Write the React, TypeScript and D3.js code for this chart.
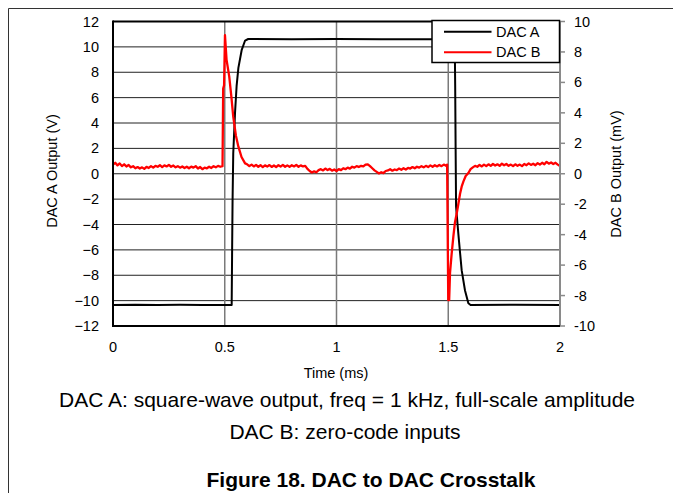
import React from "react";
import * as d3 from "d3";

// ---- Data ----
const xTicks = [0, 0.5, 1, 1.5, 2];
const xTickLabels = ["0", "0.5", "1", "1.5", "2"];
const leftTicks = [12, 10, 8, 6, 4, 2, 0, -2, -4, -6, -8, -10, -12];
const leftTickLabels = ["12", "10", "8", "6", "4", "2", "0", "\u22122", "\u22124", "\u22126", "\u22128", "\u221210", "\u221212"];
const rightTicks = [10, 8, 6, 4, 2, 0, -2, -4, -6, -8, -10];
const rightTickLabels = ["10", "8", "6", "4", "2", "0", "-2", "-4", "-6", "-8", "-10"];
const vGrid = [0.5, 1, 1.5];

// DAC A output (V) vs time (ms)
const dacA: [number, number][] = [
  [0, -10.34], [0.1, -10.32], [0.2, -10.35], [0.3, -10.33], [0.4, -10.34], [0.531, -10.34],
  [0.533, -6], [0.535, -2.06], [0.538, 1.6], [0.546, 4.8], [0.553, 6.9], [0.561, 8.35],
  [0.576, 9.77], [0.591, 10.5], [0.605, 10.62], [0.8, 10.6], [1.0, 10.62], [1.2, 10.6],
  [1.4, 10.6], [1.529, 10.6],
  [1.531, 7], [1.533, 2], [1.535, -2.6], [1.545, -4.7], [1.553, -6.25], [1.56, -7.6],
  [1.575, -9.2], [1.59, -10.2], [1.6, -10.34], [1.8, -10.33], [2.0, -10.34],
];

// DAC B output (mV) vs time (ms)
const dacB: [number, number][] = [
  [0.0, 0.6], [0.01, 0.72], [0.02, 0.55], [0.03, 0.68], [0.04, 0.5], [0.05, 0.62], [0.06, 0.48],
  [0.07, 0.58], [0.08, 0.42], [0.09, 0.5], [0.1, 0.36], [0.11, 0.44], [0.12, 0.34], [0.13, 0.42],
  [0.14, 0.32], [0.15, 0.45], [0.16, 0.38], [0.17, 0.5], [0.18, 0.4], [0.19, 0.52], [0.2, 0.46],
  [0.21, 0.56], [0.22, 0.44], [0.23, 0.55], [0.24, 0.48], [0.25, 0.58], [0.26, 0.46], [0.27, 0.54],
  [0.28, 0.42], [0.29, 0.5], [0.3, 0.4], [0.31, 0.48], [0.32, 0.38], [0.33, 0.46], [0.34, 0.36],
  [0.35, 0.47], [0.36, 0.4], [0.37, 0.5], [0.38, 0.34], [0.39, 0.44], [0.4, 0.3], [0.41, 0.4],
  [0.42, 0.36], [0.43, 0.46], [0.44, 0.38], [0.45, 0.5], [0.46, 0.42], [0.47, 0.52], [0.48, 0.46],
  [0.49, 0.5],
  [0.493, 5.6], [0.497, 5.8], [0.501, 9.1], [0.508, 7.5], [0.52, 6.4], [0.53, 5.0], [0.538, 3.75],
  [0.55, 2.5], [0.561, 1.78], [0.575, 1.1], [0.591, 0.68],
  [0.6, 0.62], [0.61, 0.5], [0.62, 0.6], [0.63, 0.48], [0.64, 0.58], [0.65, 0.46], [0.66, 0.56],
  [0.67, 0.44], [0.68, 0.55], [0.69, 0.47], [0.7, 0.57], [0.71, 0.45], [0.72, 0.54], [0.73, 0.44],
  [0.74, 0.56], [0.75, 0.47], [0.76, 0.58], [0.77, 0.46], [0.78, 0.55], [0.79, 0.45], [0.8, 0.56],
  [0.81, 0.48], [0.82, 0.58], [0.83, 0.46], [0.84, 0.55], [0.85, 0.48], [0.86, 0.52], [0.87, 0.32],
  [0.88, 0.18], [0.89, 0.08], [0.9, 0.16], [0.91, 0.1], [0.92, 0.24], [0.93, 0.3], [0.94, 0.22],
  [0.95, 0.34], [0.96, 0.24], [0.97, 0.32], [0.98, 0.2], [0.99, 0.28], [1.0, 0.18], [1.01, 0.3],
  [1.02, 0.24], [1.03, 0.36], [1.04, 0.3], [1.05, 0.4], [1.06, 0.34], [1.07, 0.46], [1.08, 0.4],
  [1.09, 0.5], [1.1, 0.44], [1.11, 0.52], [1.12, 0.48], [1.13, 0.6], [1.14, 0.62], [1.15, 0.5],
  [1.16, 0.36], [1.17, 0.22], [1.18, 0.12], [1.19, 0.02], [1.2, 0.1], [1.21, 0.04], [1.22, 0.18],
  [1.23, 0.22], [1.24, 0.3], [1.25, 0.2], [1.26, 0.28], [1.27, 0.24], [1.28, 0.34], [1.29, 0.26],
  [1.3, 0.36], [1.31, 0.28], [1.32, 0.38], [1.33, 0.34], [1.34, 0.44], [1.35, 0.36], [1.36, 0.46],
  [1.37, 0.4], [1.38, 0.5], [1.39, 0.42], [1.4, 0.52], [1.41, 0.44], [1.42, 0.55], [1.43, 0.46],
  [1.44, 0.56], [1.45, 0.48], [1.46, 0.58], [1.47, 0.5], [1.48, 0.6], [1.49, 0.52], [1.495, 0.6],
  [1.5, -8.3], [1.504, -8.3], [1.508, -6.5], [1.515, -5.3], [1.523, -4.1], [1.53, -3.2],
  [1.538, -2.6], [1.545, -2.0], [1.553, -1.3], [1.56, -0.85], [1.568, -0.5], [1.578, -0.15],
  [1.59, 0.05], [1.6, 0.3], [1.61, 0.42], [1.62, 0.52], [1.63, 0.46], [1.64, 0.58], [1.65, 0.48],
  [1.66, 0.6], [1.67, 0.5], [1.68, 0.62], [1.69, 0.52], [1.7, 0.64], [1.71, 0.54], [1.72, 0.62],
  [1.73, 0.52], [1.74, 0.66], [1.75, 0.56], [1.76, 0.64], [1.77, 0.52], [1.78, 0.6], [1.79, 0.5],
  [1.8, 0.62], [1.81, 0.52], [1.82, 0.6], [1.83, 0.5], [1.84, 0.64], [1.85, 0.56], [1.86, 0.68],
  [1.87, 0.58], [1.88, 0.66], [1.89, 0.56], [1.9, 0.7], [1.91, 0.6], [1.92, 0.72], [1.93, 0.62],
  [1.94, 0.78], [1.95, 0.66], [1.96, 0.74], [1.97, 0.64], [1.98, 0.72], [1.99, 0.6], [2.0, 0.5],
];

const legendLabels = ["DAC A", "DAC B"];
const seriesColors = ["#000000", "#ff0000"];

export default function App() {
  const W = 673, H = 493;
  const left = 113, right = 560, top = 21.5, bottom = 326;
  const x = d3.scaleLinear().domain([0, 2]).range([left, right]);
  const yL = d3.scaleLinear().domain([-12, 12]).range([bottom, top]);
  const yR = d3.scaleLinear().domain([-10, 10]).range([bottom, top]);
  const lineA = d3.line<[number, number]>().x(d => x(d[0])).y(d => yL(d[1]));
  const lineB = d3.line<[number, number]>().x(d => x(d[0])).y(d => yR(d[1]));
  const font = "'Liberation Sans', Arial, sans-serif";
  const fs = 14.5;
  const cfs = 21;

  const legX = 432, legY = 20.5, legW = 127.5, legH = 42;

  return (
    <svg width={W} height={H} style={{ position: "absolute", left: 0, top: 0, background: "#fff" }} fontFamily={font}>
      <rect x={0} y={0} width={W} height={H} fill="#fff" />
      {/* outer frame */}
      <line x1={8.5} y1={8.5} x2={W} y2={8.5} stroke="#333" strokeWidth={1} />
      <line x1={8.5} y1={8.5} x2={8.5} y2={H} stroke="#333" strokeWidth={1} />

      {/* horizontal grid */}
      {leftTicks.map((t, i) => (
        t > -12 && t < 12 ? <line key={"hg" + i} x1={left} x2={right} y1={yL(t)} y2={yL(t)} stroke="#222" strokeWidth={1} /> : null
      ))}
      {/* vertical grid */}
      {vGrid.map((t, i) => (
        <line key={"vg" + i} x1={x(t)} x2={x(t)} y1={top} y2={bottom} stroke="#7a7a7a" strokeWidth={1.5} />
      ))}

      {/* series */}
      <path d={lineA(dacA) || ""} fill="none" stroke={seriesColors[0]} strokeWidth={2} strokeLinejoin="round" />
      <path d={lineB(dacB) || ""} fill="none" stroke={seriesColors[1]} strokeWidth={2.3} strokeLinejoin="round" />

      {/* frame */}
      <line x1={right} x2={right} y1={top} y2={bottom} stroke="#8a8a8a" strokeWidth={2} />
      <line x1={left} x2={right} y1={top} y2={top} stroke="#000" strokeWidth={2} />
      <line x1={left} x2={right} y1={bottom} y2={bottom} stroke="#000" strokeWidth={2} />
      <line x1={left} x2={left} y1={top - 1} y2={bottom + 1} stroke="#000" strokeWidth={2} />

      {/* right ticks */}
      {rightTicks.map((t, i) => (
        <g key={"rt" + i}>
          <line x1={right} x2={right + 5} y1={yR(t)} y2={yR(t)} stroke="#8a8a8a" strokeWidth={1.5} />
          <text x={574} y={yR(t) + 5} fontSize={fs} textAnchor="start" fill="#000">{rightTickLabels[i]}</text>
        </g>
      ))}
      {/* left labels */}
      {leftTicks.map((t, i) => (
        <text key={"lt" + i} x={99} y={yL(t) + 5} fontSize={fs} textAnchor="end" fill="#000">{leftTickLabels[i]}</text>
      ))}
      {/* x labels */}
      {xTicks.map((t, i) => (
        <text key={"xt" + i} x={x(t)} y={352} fontSize={fs} textAnchor="middle" fill="#000">{xTickLabels[i]}</text>
      ))}

      {/* axis titles */}
      <text x={336} y={378} fontSize={fs} textAnchor="middle">Time (ms)</text>
      <text transform={`translate(57,171) rotate(-90)`} fontSize={fs} textAnchor="middle">DAC A Output (V)</text>
      <text transform={`translate(621,174) rotate(-90)`} fontSize={fs} textAnchor="middle">DAC B Output (mV)</text>

      {/* legend */}
      <rect x={legX} y={legY} width={legW} height={legH} fill="#fff" stroke="#000" strokeWidth={1.5} />
      {legendLabels.map((l, i) => (
        <g key={"lg" + i}>
          <line x1={444} x2={491.5} y1={31.7 + i * 20.6} y2={31.7 + i * 20.6} stroke={seriesColors[i]} strokeWidth={2} />
          <text x={496} y={31.7 + i * 20.6 + 5} fontSize={fs} fill="#000">{l}</text>
        </g>
      ))}

      {/* captions */}
      <text x={347} y={407} fontSize={cfs} textAnchor="middle">DAC A: square-wave output, freq = 1 kHz, full-scale amplitude</text>
      <text x={345} y={439} fontSize={cfs} textAnchor="middle">DAC B: zero-code inputs</text>
      <text x={371} y={487} fontSize={cfs} fontWeight="bold" textAnchor="middle">Figure 18. DAC to DAC Crosstalk</text>
    </svg>
  );
}
